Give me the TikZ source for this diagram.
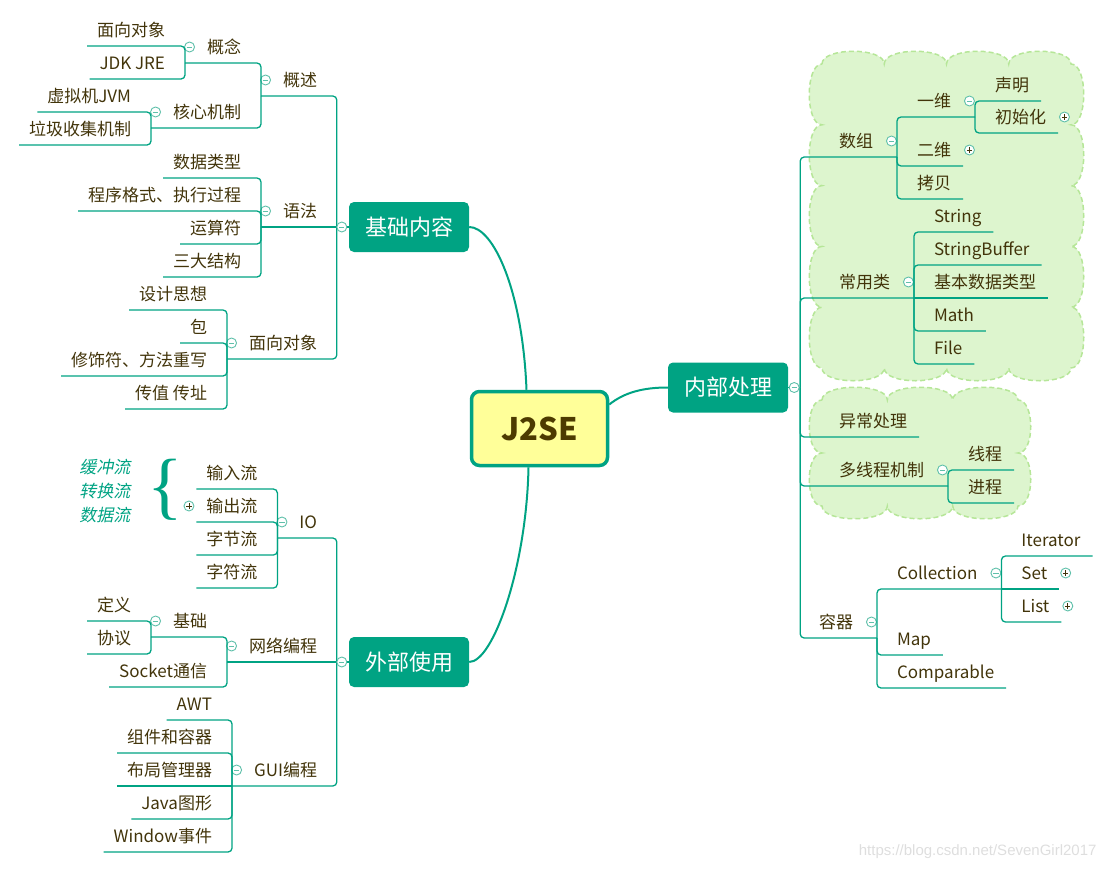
\documentclass[tikz,border=0pt]{standalone}
\usepackage{fontspec}
\setmainfont{Noto Sans CJK SC}
\newfontfamily\slantfont{Noto Sans CJK SC}[FakeSlant=0.2]
\newfontfamily\markfont{Liberation Sans}
\newfontfamily\bracefont{Liberation Serif}

\definecolor{mtteal}{RGB}{0,163,131}
\definecolor{mtfold}{RGB}{95,192,170}
\definecolor{mttext}{RGB}{66,52,10}
\definecolor{mtbrown}{RGB}{77,59,0}
\definecolor{mtyellow}{RGB}{255,255,153}
\definecolor{mtcloud}{RGB}{221,245,206}
\definecolor{mtcloudline}{RGB}{182,230,152}

% scalloped box: x0 y0 x1 y1 bumps-across bumps-down
\newcommand{\cloudshape}[6]{%
  \filldraw[cloudy] (#1,#2)
    \foreach \i in {1,...,#5} {.. controls ({#1+(\i-1)*(#3-#1)/#5},{#2-17}) and ({#1+\i*(#3-#1)/#5},{#2-17}) .. ({#1+\i*(#3-#1)/#5},#2)}
    \foreach \i in {1,...,#6} {.. controls ({#3+17},{#2+(\i-1)*(#4-#2)/#6}) and ({#3+17},{#2+\i*(#4-#2)/#6}) .. (#3,{#2+\i*(#4-#2)/#6})}
    \foreach \i in {1,...,#5} {.. controls ({#3-(\i-1)*(#3-#1)/#5},{#4+17}) and ({#3-\i*(#3-#1)/#5},{#4+17}) .. ({#3-\i*(#3-#1)/#5},#4)}
    \foreach \i in {1,...,#6} {.. controls ({#1-17},{#4-(\i-1)*(#4-#2)/#6}) and ({#1-17},{#4-\i*(#4-#2)/#6}) .. (#1,{#4-\i*(#4-#2)/#6})}
    -- cycle;}

\begin{document}
\begin{tikzpicture}[x=1pt, y=-1pt,
    link/.style={draw=mtteal, line width=1.3pt, rounded corners=4pt},
    rootlink/.style={draw=mtteal, line width=2pt},
    cloudy/.style={fill=mtcloud, draw=mtcloudline, line width=1.5pt, dash pattern=on 5pt off 3pt},
    root/.style={rectangle, rounded corners=8pt, draw=mtteal, line width=3.5pt, fill=mtyellow,
      minimum width=136pt, minimum height=74pt, text=mtbrown, font=\bfseries\fontsize{31}{34}\selectfont},
    maintopic/.style={rectangle, rounded corners=5pt, fill=mtteal, text=white,
      minimum width=120pt, minimum height=50pt, font=\fontsize{22}{24}\selectfont},
    topic/.style={inner xsep=0pt, inner ysep=6pt, outer sep=0pt, text height=16pt, text depth=4pt,
      text=mttext, font=\fontsize{17}{20}\selectfont},
    ltopic/.style={topic, anchor=base east},
    rtopic/.style={topic, anchor=base west},
    foldminus/.style={circle, draw=mtfold, fill=white, line width=0.9pt, minimum size=10pt, inner sep=0pt,
      path picture={\draw[mtfold, line width=0.9pt] ([xshift=-2.6pt]path picture bounding box.center)
        -- ([xshift=2.6pt]path picture bounding box.center);}},
    foldplus/.style={circle, draw=mtfold, fill=white, line width=0.9pt, minimum size=10pt, inner sep=0pt,
      path picture={\draw[mttext, line width=0.8pt] ([xshift=-2.6pt]path picture bounding box.center)
        -- ([xshift=2.6pt]path picture bounding box.center)
        ([yshift=-2.6pt]path picture bounding box.center) -- ([yshift=2.6pt]path picture bounding box.center);}},
    foldL/.style={label={[foldminus, xshift=-12pt]west:}},
    foldLp/.style={label={[foldplus, xshift=-12pt]west:}},
    foldR/.style={label={[foldminus, xshift=13pt]east:}},
    foldRp/.style={label={[foldplus, xshift=13pt]east:}},
    note/.style={anchor=base east, text=mtteal, font=\slantfont\fontsize{17}{20}\selectfont}
  ]
  \useasboundingbox (0,0) rectangle (1111,868);

  % clouds behind the inner branches
  \cloudshape{822}{64}{1071}{368}{4}{5}
  \cloudshape{822}{400}{1018}{506}{3}{2}

  % centre and main topics
  \node[root] (j2se) at (539.5,428.5) {J2SE};
  \node[maintopic] (jichu) at (409,227) {基础内容};
  \node[maintopic] (waibu) at (409,662) {外部使用};
  \node[maintopic] (neibu) at (728,387.5) {内部处理};

  % 基础内容
  \node[ltopic, foldL] (gaishu) at (317,86) {概述};
  \node[ltopic, foldL] (yufa) at (317,217) {语法};
  \node[ltopic, foldL] (mxdx) at (317,349) {面向对象};
  \node[ltopic, foldL, xshift=-42pt] (gainian) at (gaishu.west |- 0,53) {概念};
  \node[ltopic, foldL, xshift=-42pt] (hexin) at (gaishu.west |- 0,118) {核心机制};
  \node[ltopic, xshift=-42pt] (duixiang) at (gainian.west |- 0,36) {面向对象};
  \node[ltopic, xshift=-42pt] (jdk) at (gainian.west |- 0,69) {JDK JRE};
  \node[ltopic, xshift=-42pt] (jvm) at (hexin.west |- 0,102) {虚拟机JVM};
  \node[ltopic, xshift=-42pt] (laji) at (hexin.west |- 0,135) {垃圾收集机制};
  \node[ltopic, xshift=-42pt] (shuju) at (yufa.west |- 0,168) {数据类型};
  \node[ltopic, xshift=-42pt] (geshi) at (yufa.west |- 0,201) {程序格式、执行过程};
  \node[ltopic, xshift=-42pt] (yunsuan) at (yufa.west |- 0,234) {运算符};
  \node[ltopic, xshift=-42pt] (jiegou) at (yufa.west |- 0,267) {三大结构};
  \node[ltopic, xshift=-42pt] (sixiang) at (mxdx.west |- 0,300) {设计思想};
  \node[ltopic, xshift=-42pt] (bao) at (mxdx.west |- 0,333) {包};
  \node[ltopic, xshift=-42pt] (xiushi) at (mxdx.west |- 0,366) {修饰符、方法重写};
  \node[ltopic, xshift=-42pt] (chuanzhi) at (mxdx.west |- 0,399) {传值 传址};

  % 外部使用
  \node[ltopic, foldL] (io) at (317,528) {IO};
  \node[ltopic, foldL] (wangluo) at (317,652) {网络编程};
  \node[ltopic, foldL] (gui) at (317,776) {GUI编程};
  \node[ltopic, xshift=-42pt] (shuru) at (io.west |- 0,479) {输入流};
  \node[ltopic, foldLp, xshift=-42pt] (shuchu) at (io.west |- 0,512) {输出流};
  \node[ltopic, xshift=-42pt] (zijie) at (io.west |- 0,545) {字节流};
  \node[ltopic, xshift=-42pt] (zifu) at (io.west |- 0,578) {字符流};
  \node[ltopic, foldL, xshift=-42pt] (jichuwl) at (wangluo.west |- 0,627) {基础};
  \node[ltopic, xshift=-42pt] (socket) at (wangluo.west |- 0,677) {Socket通信};
  \node[ltopic, xshift=-42pt] (dingyi) at (jichuwl.west |- 0,611) {定义};
  \node[ltopic, xshift=-42pt] (xieyi) at (jichuwl.west |- 0,644) {协议};
  \node[ltopic, xshift=-42pt] (awt) at (gui.west |- 0,710) {AWT};
  \node[ltopic, xshift=-42pt] (zujian) at (gui.west |- 0,743) {组件和容器};
  \node[ltopic, xshift=-42pt] (buju) at (gui.west |- 0,776) {布局管理器};
  \node[ltopic, xshift=-42pt] (tuxing) at (gui.west |- 0,809) {Java图形};
  \node[ltopic, xshift=-42pt] (shijian) at (gui.west |- 0,842) {Window事件};

  % brace with the folded streams
  \node[text=mtteal, inner sep=0pt, font=\bracefont\fontsize{74}{74}\selectfont] (brace) at (165,490) {\{};
  \node[note] (huanchong) at (134,473) {缓冲流};
  \node[note] (zhuanhuan) at (134,497) {转换流};
  \node[note] (shujuliu) at (134,521) {数据流};

  % 内部处理
  \node[rtopic, foldR] (shuzu) at (839,147) {数组};
  \node[rtopic, foldR] (changyong) at (839,288) {常用类};
  \node[rtopic] (yichang) at (839,427) {异常处理};
  \node[rtopic, foldR] (duoxian) at (839,476) {多线程机制};
  \node[rtopic, foldR] (rongqi) at (819,628) {容器};
  \node[rtopic, foldR, xshift=44pt] (yiwei) at (shuzu.east |- 0,107) {一维};
  \node[rtopic, foldRp, xshift=44pt] (erwei) at (shuzu.east |- 0,156) {二维};
  \node[rtopic, xshift=44pt] (kaobei) at (shuzu.east |- 0,189) {拷贝};
  \node[rtopic, xshift=44pt] (shengming) at (yiwei.east |- 0,91) {声明};
  \node[rtopic, foldRp, xshift=44pt] (chushihua) at (yiwei.east |- 0,123) {初始化};
  \node[rtopic, xshift=44pt] (string) at (changyong.east |- 0,222) {String};
  \node[rtopic, xshift=44pt] (sbuf) at (changyong.east |- 0,255) {StringBuffer};
  \node[rtopic, xshift=44pt] (jiben) at (changyong.east |- 0,288) {基本数据类型};
  \node[rtopic, xshift=44pt] (math) at (changyong.east |- 0,321) {Math};
  \node[rtopic, xshift=44pt] (file) at (changyong.east |- 0,354) {File};
  \node[rtopic, xshift=44pt] (xiancheng) at (duoxian.east |- 0,460) {线程};
  \node[rtopic, xshift=44pt] (jincheng) at (duoxian.east |- 0,493) {进程};
  \node[rtopic, foldR, xshift=44pt] (collection) at (rongqi.east |- 0,579) {Collection};
  \node[rtopic, xshift=44pt] (map) at (rongqi.east |- 0,645) {Map};
  \node[rtopic, xshift=44pt] (comparable) at (rongqi.east |- 0,678) {Comparable};
  \node[rtopic, xshift=44pt] (iterator) at (collection.east |- 0,546) {Iterator};
  \node[rtopic, foldRp, xshift=44pt] (set) at (collection.east |- 0,579) {Set};
  \node[rtopic, foldRp, xshift=44pt] (list) at (collection.east |- 0,612) {List};

  % curves from the centre
  \draw[rootlink] (jichu.east) .. controls +(24,0) and +(-4,-100) .. ([xshift=-13pt]j2se.north);
  \draw[rootlink] (waibu.east) .. controls +(24,0) and +(-2,100) .. ([xshift=-11pt]j2se.south);
  \draw[rootlink] ([yshift=24pt]j2se.east) .. controls +(15,-12) and +(-25,0) .. (neibu.west);

  % left connectors
  \draw[link] (jichu.west) -- ([xshift=-22pt]yufa.south west);
  \foreach \c in {gaishu,mxdx}
    \draw[link] ([xshift=-12pt]jichu.west) |- ([xshift=-22pt]\c.south west);
  \foreach \c in {gainian,hexin}
    \draw[link] ([xshift=-22pt]gaishu.south west) |- ([xshift=-22pt]\c.south west);
  \foreach \c in {duixiang,jdk}
    \draw[link] ([xshift=-22pt]gainian.south west) |- ([xshift=-10pt]\c.south west);
  \foreach \c in {jvm,laji}
    \draw[link] ([xshift=-22pt]hexin.south west) |- ([xshift=-10pt]\c.south west);
  \foreach \c in {shuju,geshi,yunsuan,jiegou}
    \draw[link] ([xshift=-22pt]yufa.south west) |- ([xshift=-10pt]\c.south west);
  \foreach \c in {sixiang,bao,xiushi,chuanzhi}
    \draw[link] ([xshift=-22pt]mxdx.south west) |- ([xshift=-10pt]\c.south west);

  \draw[link] (waibu.west) -- ([xshift=-22pt]wangluo.south west);
  \foreach \c in {io,gui}
    \draw[link] ([xshift=-12pt]waibu.west) |- ([xshift=-22pt]\c.south west);
  \foreach \c in {shuru,shuchu,zijie,zifu}
    \draw[link] ([xshift=-22pt]io.south west) |- ([xshift=-10pt]\c.south west);
  \foreach \c/\d in {jichuwl/22pt,socket/10pt}
    \draw[link] ([xshift=-22pt]wangluo.south west) |- ([xshift=-\d]\c.south west);
  \foreach \c in {dingyi,xieyi}
    \draw[link] ([xshift=-22pt]jichuwl.south west) |- ([xshift=-10pt]\c.south west);
  \draw[link] ([xshift=-22pt]gui.south west) -- ([xshift=-10pt]buju.south west);
  \foreach \c in {awt,zujian,tuxing,shijian}
    \draw[link] ([xshift=-22pt]gui.south west) |- ([xshift=-10pt]\c.south west);

  % right connectors
  \draw[link] (neibu.east) -- ([xshift=12pt]neibu.east);
  \foreach \c/\d in {shuzu/24pt,changyong/24pt,yichang/12pt,duoxian/24pt,rongqi/24pt}
    \draw[link] ([xshift=12pt]neibu.east) |- ([xshift=\d]\c.south east);
  \foreach \c/\d in {yiwei/24pt,erwei/12pt,kaobei/12pt}
    \draw[link] ([xshift=24pt]shuzu.south east) |- ([xshift=\d]\c.south east);
  \foreach \c in {shengming,chushihua}
    \draw[link] ([xshift=24pt]yiwei.south east) |- ([xshift=12pt]\c.south east);
  \draw[link] ([xshift=24pt]changyong.south east) -- ([xshift=12pt]jiben.south east);
  \foreach \c in {string,sbuf,math,file}
    \draw[link] ([xshift=24pt]changyong.south east) |- ([xshift=12pt]\c.south east);
  \foreach \c in {xiancheng,jincheng}
    \draw[link] ([xshift=24pt]duoxian.south east) |- ([xshift=12pt]\c.south east);
  \foreach \c/\d in {collection/24pt,map/12pt,comparable/12pt}
    \draw[link] ([xshift=24pt]rongqi.south east) |- ([xshift=\d]\c.south east);
  \draw[link] ([xshift=24pt]collection.south east) -- ([xshift=12pt]set.south east);
  \foreach \c in {iterator,list}
    \draw[link] ([xshift=24pt]collection.south east) |- ([xshift=12pt]\c.south east);

  % fold marks on the main topics
  \node[foldminus] (fjichu) at ([xshift=-7pt]jichu.west) {};
  \node[foldminus] (fwaibu) at ([xshift=-7pt]waibu.west) {};
  \node[foldminus] (fneibu) at ([xshift=6pt]neibu.east) {};

  \node[anchor=base east, text=black!13, font=\markfont\fontsize{15}{18}\selectfont] (mark)
    at (1100,855) {https://blog.csdn.net/SevenGirl2017};
\end{tikzpicture}
\end{document}
